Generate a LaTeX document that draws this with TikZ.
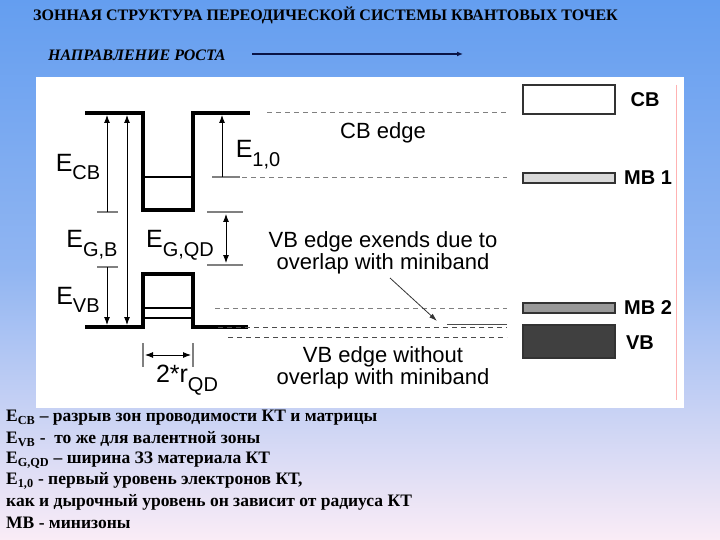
\documentclass[tikz,border=0pt]{standalone}
\usepackage{fontspec}
\setmainfont{Liberation Serif}
\setsansfont{Liberation Sans}
\usetikzlibrary{arrows.meta}
\definecolor{bgtop}{RGB}{100,158,240}
\definecolor{bgbot}{RGB}{250,236,246}
\definecolor{navy}{RGB}{10,20,70}
\newcommand{\lsub}[1]{\raisebox{-0.35em}{\fontsize{20}{20}\selectfont #1}}
\tikzset{
  wall/.style={line width=3.5pt},
  lvl/.style={line width=2pt},
  tick/.style={gray,line width=1.2pt},
  dim/.style={line width=0.9pt,-{Latex[length=8pt,width=6pt]}},
  dimb/.style={line width=0.9pt,{Latex[length=8pt,width=6pt]}-{Latex[length=8pt,width=6pt]}},
  dashlvl/.style={gray,line width=1pt,dash pattern=on 5pt off 4pt},
  lab/.style={font=\sffamily\fontsize{25}{25}\selectfont,inner sep=0pt},
  txt/.style={font=\sffamily\fontsize{22}{22}\selectfont,align=center,inner sep=0pt},
  legl/.style={font=\sffamily\bfseries\fontsize{20}{20}\selectfont,inner sep=0pt},
  leg/.style={draw=black!80,line width=1.5pt},
  note/.style={font=\bfseries\fontsize{17.5}{17.5}\selectfont,anchor=west,inner sep=0pt}
}
\begin{document}
\begin{tikzpicture}[x=1pt,y=-1pt]
\useasboundingbox (0,0) rectangle (720,540);
\shade[top color=bgtop,bottom color=bgbot,middle color=bgtop!70!bgbot,shading angle=0] (0,0) rectangle (720,540);
\fill[white] (36,77) rectangle (684,408);
\draw[red!30,line width=0.6pt] (676,85) -- (676,400);
% title
\node[font=\bfseries\fontsize{16}{16}\selectfont,anchor=west,inner sep=0pt] (title) at (33,15) {ЗОННАЯ СТРУКТУРА ПЕРЕОДИЧЕСКОЙ СИСТЕМЫ КВАНТОВЫХ ТОЧЕК};
\node[font=\bfseries\itshape\fontsize{16}{16}\selectfont,anchor=west,inner sep=0pt] (grow) at (48,55) {НАПРАВЛЕНИЕ РОСТА};
\coordinate (ga) at (252,54); \coordinate (gb) at (463,54);
\draw[navy,line width=2pt,-{Latex[length=6pt,width=5pt]}] (ga) -- (gb);
% wells
\draw[wall] (85,113) -- (143,113) -- (143,210) -- (193,210) -- (193,113) -- (250,113);
\draw[lvl] (143,177) -- (193,177);
\draw[wall] (85,327) -- (143,327) -- (143,274) -- (193,274) -- (193,327) -- (248,327);
\draw[lvl] (143,308) -- (193,308);
\draw[lvl] (143,318) -- (193,318);
% ticks
\draw[tick] (97,212) -- (118,212);
\draw[tick] (97,267) -- (118,267);
\draw[tick] (212,177) -- (240,177);
\draw[tick] (207,212) -- (243,212);
\draw[tick] (207,265) -- (243,265);
\draw[tick] (143,343) -- (143,367);
\draw[tick] (193,343) -- (193,367);
% dimension arrows
\coordinate (c1) at (107,212); \coordinate (c2) at (107,115);
\draw[dim] (c1) -- (c2);
\coordinate (c3) at (107,267); \coordinate (c4) at (107,325);
\draw[dim] (c3) -- (c4);
\coordinate (c5) at (127,115); \coordinate (c6) at (127,325);
\draw[dimb] (c5) -- (c6);
\coordinate (c7) at (222,177); \coordinate (c8) at (222,115);
\draw[dim] (c7) -- (c8);
\coordinate (c9) at (226,214); \coordinate (c10) at (226,263);
\draw[dimb] (c9) -- (c10);
\coordinate (c11) at (145,355); \coordinate (c12) at (191,355);
\draw[dimb] (c11) -- (c12);
% labels
\node[lab] (ecb) at (78,167) {E\lsub{CB}};
\node[lab] (egb) at (92,245) {E\lsub{G,B}};
\node[lab] (egqd) at (180,245) {E\lsub{G,QD}};
\node[lab] (evb) at (78,300) {E\lsub{VB}};
\node[lab] (e10) at (258,155) {E\lsub{1,0}};
\node[lab] (rqd) at (187,380) {2*r\lsub{QD}};
% dashed levels
\draw[dashlvl] (267,113) -- (507,113);
\draw[dashlvl] (215,178) -- (507,178);
\draw[dashlvl] (215,308) -- (507,308);
\draw[dashlvl,black!70] (218,327) -- (507,327);
\draw[dashlvl,black!70] (228,337) -- (507,337);
\draw[black!70,line width=1pt] (447,324) -- (507,324);
\node[txt] (cbe) at (383,133) {CB edge};
\node[txt] (vbx) at (383,253) {VB edge exends due to\\overlap with miniband};
\node[txt] (vbw) at (383,368) {VB edge without\\overlap with miniband};
\coordinate (ar) at (437,321);
\draw[black!80,line width=0.8pt,-{Latex[length=8pt,width=5pt]}] (390,278) -- (ar);
% legend
\draw[leg,fill=white] (523,85) rectangle (615,114);
\draw[leg,fill=black!15] (523,173) rectangle (615,183);
\draw[leg,fill=black!40] (523,303) rectangle (615,313);
\draw[leg,fill=black!75] (523,325) rectangle (615,358);
\node[legl] (lcb) at (645,100) {CB};
\node[legl] (lmb1) at (648,178) {MB 1};
\node[legl] (lmb2) at (648,308) {MB 2};
\node[legl] (lvb) at (640,343) {VB};
% notes
\node[note] (n1) at (6,418) {E\textsubscript{CB} – разрыв зон проводимости КТ и матрицы};
\node[note] (n2) at (6,439) {E\textsubscript{VB} - \ то же для валентной зоны};
\node[note] (n3) at (6,460) {E\textsubscript{G,QD} – ширина ЗЗ материала КТ};
\node[note] (n4) at (6,481) {E\textsubscript{1,0} - первый уровень электронов КТ,};
\node[note] (n5) at (6,502) {как и дырочный уровень он зависит от радиуса КТ};
\node[note] (n6) at (6,523) {МВ - минизоны};
\end{tikzpicture}
\end{document}
